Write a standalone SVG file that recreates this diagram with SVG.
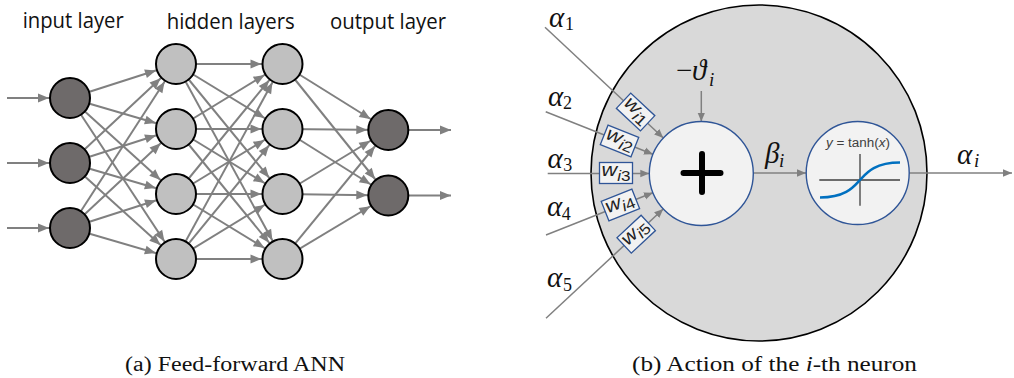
<svg xmlns="http://www.w3.org/2000/svg" width="1014" height="378" viewBox="0 0 1014 378">
<style>
.lbl{font-family:"Open Sans","Liberation Sans",sans-serif;font-size:21px;fill:#111}
.cap{font-family:"Liberation Serif","DejaVu Serif",serif;font-size:20px;fill:#111}
.e{stroke:#808080;stroke-width:2;fill:none}
.ein{marker-end:url(#hn)}
.dark{fill:#6e6a6a;stroke:#000;stroke-width:2}
.light{fill:#c0c0c0;stroke:#000;stroke-width:2}
.r{stroke:#808080;stroke-width:1.5;fill:none}
.math{font-family:"Liberation Serif","DejaVu Serif",serif;font-style:italic;font-size:29px;fill:#111}
.sub{font-style:normal;font-size:18px}
.subi{font-style:italic;font-size:19px}
.wbox{fill:#f2f2f2;stroke:#2f5597;stroke-width:1.3}
.wt{font-family:"Liberation Sans","DejaVu Sans",sans-serif;font-style:italic;font-size:19px;fill:#222}
</style>
<defs>
<marker id="hn" markerUnits="userSpaceOnUse" viewBox="0 0 12 12" markerWidth="12" markerHeight="12" refX="33" refY="6" orient="auto">
<path d="M1,1.5 L12,6 L1,10.5 z" fill="#808080"/>
</marker>
<marker id="he" markerUnits="userSpaceOnUse" viewBox="0 0 12 12" markerWidth="12" markerHeight="12" refX="12" refY="6" orient="auto">
<path d="M1,1.5 L12,6 L1,10.5 z" fill="#808080"/>
</marker>
<marker id="hs" markerUnits="userSpaceOnUse" viewBox="0 0 10 10" markerWidth="10" markerHeight="10" refX="61" refY="5" orient="auto">
<path d="M0,1.2 L9,5 L0,8.8 z" fill="#808080"/>
</marker>
<marker id="hse" markerUnits="userSpaceOnUse" viewBox="0 0 10 10" markerWidth="10" markerHeight="10" refX="9" refY="5" orient="auto">
<path d="M0,1.2 L9,5 L0,8.8 z" fill="#808080"/>
</marker>
</defs>

<!-- (a) Feed-forward ANN -->
<g id="labels-a">
<text class="lbl" x="22.7" y="28" textLength="101" lengthAdjust="spacingAndGlyphs">input layer</text>
<text class="lbl" x="166.7" y="29" textLength="128" lengthAdjust="spacingAndGlyphs">hidden layers</text>
<text class="lbl" x="330" y="29" textLength="116" lengthAdjust="spacingAndGlyphs">output layer</text>
</g>

<g id="connectors-a">
<line class="e ein" x1="7" y1="98" x2="70" y2="98"/>
<line class="e ein" x1="7" y1="163" x2="70" y2="163"/>
<line class="e ein" x1="7" y1="228" x2="70" y2="228"/>

<line class="e ein" x1="70" y1="98" x2="176" y2="64"/>
<line class="e ein" x1="70" y1="98" x2="176" y2="129"/>
<line class="e ein" x1="70" y1="98" x2="176" y2="194"/>
<line class="e ein" x1="70" y1="98" x2="176" y2="259"/>
<line class="e ein" x1="70" y1="163" x2="176" y2="64"/>
<line class="e ein" x1="70" y1="163" x2="176" y2="129"/>
<line class="e ein" x1="70" y1="163" x2="176" y2="194"/>
<line class="e ein" x1="70" y1="163" x2="176" y2="259"/>
<line class="e ein" x1="70" y1="228" x2="176" y2="64"/>
<line class="e ein" x1="70" y1="228" x2="176" y2="129"/>
<line class="e ein" x1="70" y1="228" x2="176" y2="194"/>
<line class="e ein" x1="70" y1="228" x2="176" y2="259"/>

<line class="e ein" x1="176" y1="64" x2="282.5" y2="64"/>
<line class="e ein" x1="176" y1="64" x2="282.5" y2="129"/>
<line class="e ein" x1="176" y1="64" x2="282.5" y2="194"/>
<line class="e ein" x1="176" y1="64" x2="282.5" y2="259"/>
<line class="e ein" x1="176" y1="129" x2="282.5" y2="64"/>
<line class="e ein" x1="176" y1="129" x2="282.5" y2="129"/>
<line class="e ein" x1="176" y1="129" x2="282.5" y2="194"/>
<line class="e ein" x1="176" y1="129" x2="282.5" y2="259"/>
<line class="e ein" x1="176" y1="194" x2="282.5" y2="64"/>
<line class="e ein" x1="176" y1="194" x2="282.5" y2="129"/>
<line class="e ein" x1="176" y1="194" x2="282.5" y2="194"/>
<line class="e ein" x1="176" y1="194" x2="282.5" y2="259"/>
<line class="e ein" x1="176" y1="259" x2="282.5" y2="64"/>
<line class="e ein" x1="176" y1="259" x2="282.5" y2="129"/>
<line class="e ein" x1="176" y1="259" x2="282.5" y2="194"/>
<line class="e ein" x1="176" y1="259" x2="282.5" y2="259"/>

<line class="e ein" x1="282.5" y1="64" x2="388.3" y2="130"/>
<line class="e ein" x1="282.5" y1="64" x2="388.3" y2="195.5"/>
<line class="e ein" x1="282.5" y1="129" x2="388.3" y2="130"/>
<line class="e ein" x1="282.5" y1="129" x2="388.3" y2="195.5"/>
<line class="e ein" x1="282.5" y1="194" x2="388.3" y2="130"/>
<line class="e ein" x1="282.5" y1="194" x2="388.3" y2="195.5"/>
<line class="e ein" x1="282.5" y1="259" x2="388.3" y2="130"/>
<line class="e ein" x1="282.5" y1="259" x2="388.3" y2="195.5"/>

<line class="e" marker-end="url(#he)" x1="388.3" y1="130" x2="451" y2="130"/>
<line class="e" marker-end="url(#he)" x1="388.3" y1="195.5" x2="451" y2="195.5"/>
</g>

<g id="in1"><circle class="dark" cx="70" cy="98" r="20"/></g>
<g id="in2"><circle class="dark" cx="70" cy="163" r="20"/></g>
<g id="in3"><circle class="dark" cx="70" cy="228" r="20"/></g>
<g id="h11"><circle class="light" cx="176" cy="64" r="20"/></g>
<g id="h12"><circle class="light" cx="176" cy="129" r="20"/></g>
<g id="h13"><circle class="light" cx="176" cy="194" r="20"/></g>
<g id="h14"><circle class="light" cx="176" cy="259" r="20"/></g>
<g id="h21"><circle class="light" cx="282.5" cy="64" r="20"/></g>
<g id="h22"><circle class="light" cx="282.5" cy="129" r="20"/></g>
<g id="h23"><circle class="light" cx="282.5" cy="194" r="20"/></g>
<g id="h24"><circle class="light" cx="282.5" cy="259" r="20"/></g>
<g id="out1"><circle class="dark" cx="388.3" cy="130" r="20"/></g>
<g id="out2"><circle class="dark" cx="388.3" cy="195.5" r="20"/></g>

<!-- (b) Neuron -->
<g id="neuron">
<circle cx="759" cy="173" r="168" fill="#d9d9d9" stroke="#000" stroke-width="1.6"/>
</g>

<g id="connectors-b">
<line class="r" marker-end="url(#hs)" x1="545" y1="27.3" x2="701.3" y2="173.5"/>
<line class="r" marker-end="url(#hs)" x1="545.7" y1="111.7" x2="701.3" y2="173.5"/>
<line class="r" marker-end="url(#hs)" x1="547.7" y1="173.5" x2="701.3" y2="173.5"/>
<line class="r" marker-end="url(#hs)" x1="546" y1="235" x2="701.3" y2="173.5"/>
<line class="r" marker-end="url(#hs)" x1="546" y1="318.3" x2="701.3" y2="173.5"/>
<line class="r" marker-end="url(#hse)" x1="701.3" y1="91" x2="701.3" y2="121.5"/>
<line class="r" marker-end="url(#hse)" x1="753" y1="173" x2="806" y2="173"/>
<line class="r" marker-end="url(#hse)" x1="909" y1="173" x2="1012" y2="173"/>
</g>

<g id="w1" transform="translate(635.6,112) rotate(43.1)">
<rect class="wbox" x="-16.5" y="-10.5" width="33" height="21"/>
<text class="wt" x="0" y="3" text-anchor="middle" textLength="29" lengthAdjust="spacingAndGlyphs">w<tspan font-size="15" dy="4.5">i</tspan><tspan font-size="15" font-style="normal">1</tspan></text>
</g>
<g id="w2" transform="translate(619.5,141) rotate(21.7)">
<rect class="wbox" x="-16.5" y="-10.5" width="33" height="21"/>
<text class="wt" x="0" y="3" text-anchor="middle" textLength="29" lengthAdjust="spacingAndGlyphs">w<tspan font-size="15" dy="4.5">i</tspan><tspan font-size="15" font-style="normal">2</tspan></text>
</g>
<g id="w3" transform="translate(616,173)">
<rect class="wbox" x="-16.5" y="-10.5" width="33" height="21"/>
<text class="wt" x="0" y="3" text-anchor="middle" textLength="29" lengthAdjust="spacingAndGlyphs">w<tspan font-size="15" dy="4.5">i</tspan><tspan font-size="15" font-style="normal">3</tspan></text>
</g>
<g id="w4" transform="translate(620.4,205) rotate(-21.6)">
<rect class="wbox" x="-16.5" y="-10.5" width="33" height="21"/>
<text class="wt" x="0" y="3" text-anchor="middle" textLength="29" lengthAdjust="spacingAndGlyphs">w<tspan font-size="15" dy="4.5">i</tspan><tspan font-size="15" font-style="normal">4</tspan></text>
</g>
<g id="w5" transform="translate(636.2,234.2) rotate(-43)">
<rect class="wbox" x="-16.5" y="-10.5" width="33" height="21"/>
<text class="wt" x="0" y="3" text-anchor="middle" textLength="29" lengthAdjust="spacingAndGlyphs">w<tspan font-size="15" dy="4.5">i</tspan><tspan font-size="15" font-style="normal">5</tspan></text>
</g>

<g id="sum">
<circle cx="701.3" cy="173.5" r="52" fill="#f2f2f2" stroke="#2f5597" stroke-width="1.4"/>
<path d="M683.5,173 H720.5 M702,154 V192" stroke="#000" stroke-width="6" stroke-linecap="round" fill="none"/>
</g>

<g id="tanh">
<circle cx="857.7" cy="173" r="51.5" fill="#f2f2f2" stroke="#2f5597" stroke-width="1.4"/>
<path d="M819.3,180 H900 M860,154 V205.7" stroke="#404040" stroke-width="1.3" fill="none"/>
<path d="M820,197.5 C846,197.5 854,186.5 860,180 C866,173.5 874,162.5 900,162.5" stroke="#0070c0" stroke-width="2.5" fill="none"/>
<text x="858" y="147.3" text-anchor="middle" font-family="Liberation Sans, DejaVu Sans, sans-serif" font-size="12" fill="#404040" textLength="64" lengthAdjust="spacingAndGlyphs"><tspan font-style="italic">y</tspan> = tanh(<tspan font-style="italic">x</tspan>)</text>
</g>

<g id="labels-b">
<text class="math" x="549" y="27">α<tspan class="sub" x="565" y="30">1</tspan></text>
<text class="math" x="548" y="106">α<tspan class="sub" x="563" y="109">2</tspan></text>
<text class="math" x="547.5" y="168">α<tspan class="sub" x="563.3" y="170.5">3</tspan></text>
<text class="math" x="547" y="216">α<tspan class="sub" x="561.7" y="220">4</tspan></text>
<text class="math" x="547" y="287">α<tspan class="sub" x="563" y="291">5</tspan></text>
<text class="math" y="80"><tspan font-style="normal" x="676">−</tspan><tspan x="692">ϑ</tspan><tspan class="subi" x="709" y="86">i</tspan></text>
<text class="math" x="765" y="163">β<tspan class="subi" x="779" y="166.7">i</tspan></text>
<text class="math" x="957" y="164">α<tspan class="subi" x="974" y="166.7">i</tspan></text>
</g>

<g id="captions">
<text class="cap" x="125" y="371" textLength="220" lengthAdjust="spacingAndGlyphs">(a) Feed-forward ANN</text>
<text class="cap" x="632" y="370.5" textLength="285" lengthAdjust="spacingAndGlyphs">(b) Action of the <tspan font-style="italic">i</tspan>-th neuron</text>
</g>
</svg>
